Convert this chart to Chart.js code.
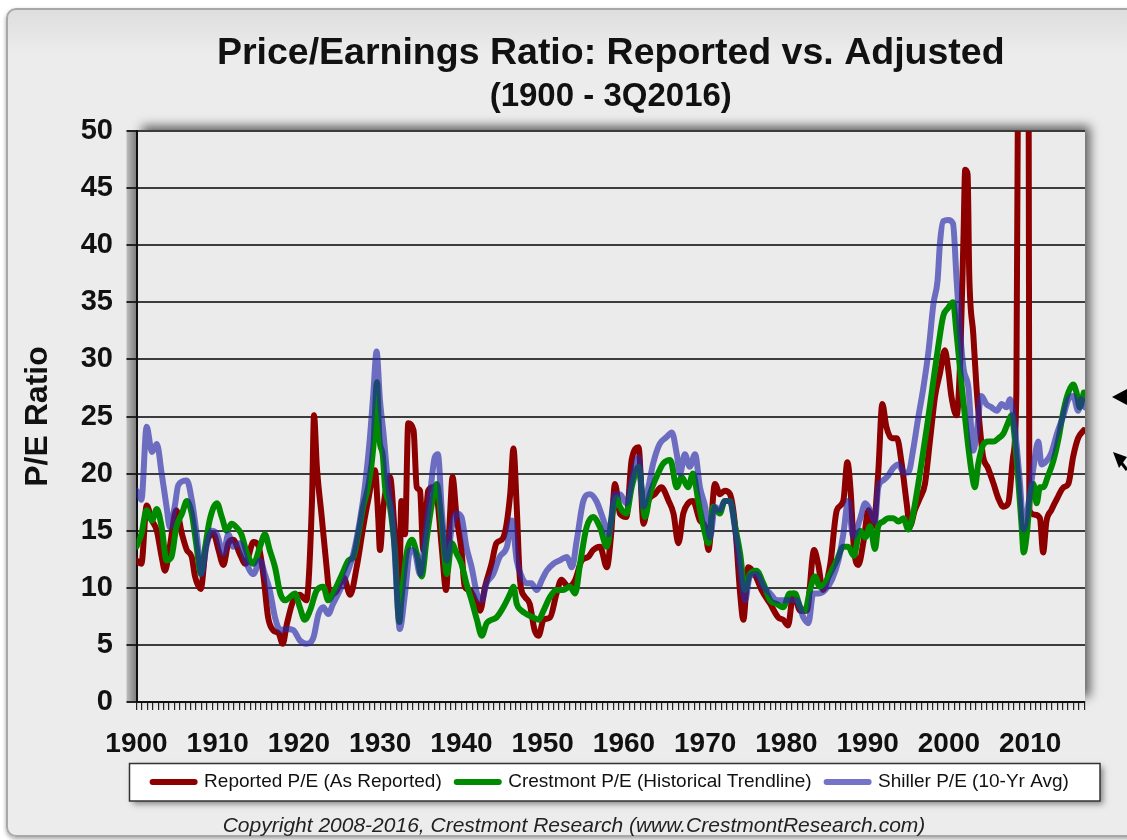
<!DOCTYPE html>
<html>
<head>
<meta charset="utf-8">
<title>Price/Earnings Ratio: Reported vs. Adjusted</title>
<script src="https://cdn.jsdelivr.net/npm/chart.js"></script>
<style>
  html, body { margin: 0; padding: 0; background: #ffffff; }
  #frame {
    position: absolute; left: 6px; top: 8px; width: 1150px; height: 829px;
    box-sizing: border-box; border: 2px solid #a8a8a8; border-radius: 10px;
    background: linear-gradient(#dedede, #ececec 45px, #ececec);
    box-shadow: 0 2px 4px rgba(0,0,0,0.35);
  }
  #chartPE { position: absolute; left: 0; top: 0; }
</style>
</head>
<body>
<div id="frame"></div>
<canvas id="chartPE" width="1127" height="840"></canvas>
<script>
// Valeurs (année, P/E)
const reportedYears = [1900,1900.6,1901.25,1901.9,1902.5,1903.1,1903.5,1904.1,1904.9,1905.6,1906.2,1906.8,1907.2,1907.9,1908.6,1909.5,1910.1,1910.7,1911.3,1911.9,1912.7,1913.4,1914.4,1915,1915.6,1916.2,1916.8,1917.5,1918,1918.5,1919.3,1920.1,1920.9,1921.6,1921.85,1922.2,1922.8,1923.4,1923.8,1924.6,1925.5,1926.3,1927.1,1927.9,1928.5,1929.35,1929.75,1929.97,1930.4,1931.2,1931.8,1932.35,1932.6,1933.05,1933.45,1934.1,1934.5,1934.9,1935.3,1935.9,1936.5,1936.95,1937.6,1938.1,1938.6,1938.9,1939.4,1940,1940.4,1941,1941.9,1942.3,1942.9,1943.7,1944.3,1945.15,1946,1946.4,1946.8,1947.2,1947.8,1948.4,1949,1949.5,1950.1,1950.9,1951.7,1952.3,1953.15,1954,1954.8,1955.6,1956.2,1957.05,1957.9,1958.4,1958.9,1959.5,1960.3,1960.95,1961.8,1962.4,1963,1963.8,1964.6,1965.5,1966.1,1966.7,1967.3,1967.9,1968.5,1969.35,1970,1970.4,1971.2,1971.8,1972.4,1973.05,1973.7,1974.3,1974.7,1975.3,1976.1,1976.95,1978,1979,1979.6,1980.2,1980.85,1981.7,1982.5,1983.4,1983.9,1984.5,1985.4,1986.2,1987,1987.5,1987.9,1988.3,1988.85,1989.5,1990.1,1990.7,1991.3,1991.8,1992.3,1992.95,1993.6,1994.2,1994.8,1995.2,1995.8,1996.4,1997.05,1997.7,1998.3,1998.9,1999.5,1999.9,2000.3,2000.95,2001.4,2001.8,2002,2002.3,2002.5,2003,2003.4,2003.8,2004.2,2004.8,2005.5,2006.1,2006.7,2007.3,2007.9,2008.3,2008.6,2009.2,2009.75,2009.9,2010.6,2011.2,2011.6,2012,2012.6,2013.3,2014.1,2014.7,2015.3,2015.9,2016.6];
const reportedPE = [12.4,12.1,17.2,15.9,15.0,12.7,11.5,13.6,16.8,14.7,13.3,12.7,11.0,9.9,13.9,14.7,13.3,12.0,13.9,14.2,13.0,12.1,14.0,13.7,11.2,7.4,6.3,6.0,5.1,6.8,8.9,9.4,8.9,17.6,25.1,20.6,16.2,11.8,9.4,9.7,10.9,9.4,11.8,15.3,17.6,20.3,16.2,13.3,17.1,19.7,14.7,9.8,17.6,14.7,24.4,23.8,18.8,18.5,13.3,18.5,18.8,18.2,13.3,9.8,16.5,19.7,16.2,13.3,10.1,9.8,8.6,8.0,10.1,12.1,13.9,14.4,18.2,22.2,17.1,10.7,9.2,8.6,6.3,5.8,7.2,7.4,9.5,10.7,10.1,10.7,12.4,12.7,13.3,13.6,11.8,14.5,19.1,16.5,16.2,21.2,22.3,15.6,17.6,18.2,18.8,17.6,16.5,13.9,16.5,17.4,17.6,15.9,15.3,13.3,19.1,18.2,18.5,18.2,15.3,9.5,7.2,11.8,11.2,9.8,8.6,7.4,7.2,6.7,9.5,8.0,8.0,13.3,12.1,9.8,12.1,16.8,17.6,21.0,18.5,13.5,12.0,14.1,16.8,15.4,20.1,26.1,24.1,23.1,23.1,20.8,17.4,15.4,16.8,17.8,19.1,23.1,26.8,28.8,30.8,29.2,26.8,25.1,30.2,40.9,46.6,46.2,37.5,32.2,27.5,24.1,21.5,20.5,19.1,17.8,17.1,17.4,21.5,27.0,70.0,120.0,85.0,16.8,16.4,16.1,13.1,15.8,16.8,17.8,18.8,19.1,21.5,23.1,23.8];

const crestmontYears = [1900,1900.6,1901.25,1901.9,1902.5,1903.1,1903.7,1904.3,1904.9,1905.6,1906.2,1906.8,1907.4,1907.9,1908.4,1909,1909.9,1910.5,1911.1,1911.7,1912.3,1912.9,1913.6,1914.4,1915.2,1915.8,1916.4,1917.05,1917.7,1918.3,1918.9,1919.5,1920.1,1920.7,1921.35,1922.2,1923,1923.6,1924.2,1924.8,1925.5,1926.1,1926.7,1927.3,1927.9,1928.5,1929.15,1929.6,1929.9,1930.3,1930.6,1931.2,1931.8,1932.35,1932.6,1933.25,1933.9,1934.5,1935.1,1935.7,1936.3,1936.95,1937.6,1938.2,1938.8,1939.4,1940,1940.6,1941.25,1941.9,1942.5,1943.1,1943.7,1944.3,1945.15,1946,1946.4,1946.8,1947.4,1948,1948.85,1949.5,1950.1,1950.9,1951.7,1952.5,1953.35,1954,1954.6,1955.4,1956.2,1957.05,1957.9,1958.5,1959.1,1959.5,1960.3,1960.95,1961.8,1962.6,1963.2,1964,1964.85,1965.7,1966.5,1967.1,1967.9,1968.5,1969.15,1969.8,1970.4,1971,1971.8,1972.4,1973.05,1973.7,1974.3,1974.9,1975.5,1976.3,1977.15,1978,1978.8,1979.6,1980.4,1981.05,1981.7,1982.3,1982.9,1983.5,1984.1,1984.75,1985.35,1986.2,1987,1987.6,1988.3,1989.05,1989.7,1990.3,1990.9,1991.3,1991.9,1992.5,1993.15,1993.8,1994.4,1995,1995.4,1996,1996.6,1997.3,1998.1,1998.7,1999.3,1999.9,2000.5,2000.95,2001.6,2002.2,2002.8,2003.2,2003.6,2004.2,2004.85,2005.5,2006.1,2006.7,2007.3,2007.7,2008.1,2008.5,2008.95,2009.2,2009.6,2010,2010.4,2010.8,2011.2,2011.6,2012.2,2012.85,2013.5,2014.1,2014.7,2015.3,2015.7,2016.1,2016.6];
const crestmontPE = [13.6,14.7,16.8,15.9,16.9,15.3,12.4,12.7,15.3,16.5,17.6,16.5,13.6,11.2,13.3,15.9,17.4,16.2,15.0,15.6,15.3,14.7,13.0,12.1,13.6,14.7,13.3,11.8,9.5,8.9,9.2,9.5,8.3,7.2,8.0,9.8,10.1,8.9,9.5,10.4,11.5,12.4,12.7,14.7,17.1,18.8,22.3,28.0,23.0,21.7,18.8,17.1,13.3,7.0,8.9,13.0,14.2,13.0,11.0,14.2,17.1,19.1,15.3,11.2,13.9,13.0,12.1,10.4,8.9,7.2,5.8,6.9,7.2,7.4,8.3,9.5,10.1,8.6,8.0,7.7,7.4,7.2,8.0,9.2,9.8,9.8,10.1,9.5,12.1,15.3,16.2,15.3,13.6,16.2,17.9,17.1,16.5,18.8,20.6,16.2,18.2,19.7,20.9,21.2,18.8,19.7,18.8,20.0,17.6,15.3,13.9,17.1,16.5,17.6,17.6,15.3,13.0,9.8,11.2,11.5,10.4,8.9,8.6,8.3,9.5,9.5,8.3,8.0,9.8,11.0,10.1,10.4,11.2,12.4,13.6,13.6,12.8,15.0,14.4,15.4,13.4,15.4,15.8,16.1,16.1,15.8,16.1,15.1,15.8,18.1,20.8,24.1,28.2,31.2,33.8,34.5,35.0,32.2,27.5,23.5,20.1,18.8,20.8,22.5,22.8,22.8,23.1,23.5,24.5,25.1,23.1,19.8,15.4,13.1,14.8,18.1,19.1,17.4,18.8,18.8,19.8,21.1,23.1,25.5,27.1,27.8,27.1,25.8,27.1];

const shillerYears = [1900,1900.6,1901.25,1901.9,1902.5,1903.1,1903.7,1904.1,1904.7,1905.15,1906.2,1906.8,1907.4,1908,1908.6,1909.25,1909.9,1910.7,1911.3,1911.9,1912.7,1913.55,1914.4,1915.2,1915.8,1916.4,1917.05,1917.7,1918.5,1919.3,1920.1,1920.9,1921.8,1922.4,1923,1923.6,1924.2,1925.05,1925.9,1926.7,1927.5,1928.1,1928.7,1929.15,1929.55,1929.97,1930.4,1931,1931.6,1932.2,1932.4,1933.05,1933.7,1934.3,1934.9,1935.5,1936.1,1936.7,1937.1,1937.6,1938.2,1938.8,1939.4,1940,1940.6,1941.25,1941.9,1942.5,1943.1,1943.9,1944.7,1945.6,1946.2,1946.8,1947.4,1948,1948.6,1949.25,1949.9,1950.5,1951.3,1952.1,1952.95,1953.6,1954.2,1955,1955.8,1956.6,1957.5,1958.1,1958.9,1959.5,1960.3,1961.15,1961.8,1962.4,1963,1963.6,1964.4,1965.25,1965.9,1966.5,1966.9,1967.5,1968.1,1968.75,1969.35,1970,1970.6,1971.2,1971.8,1972.4,1973.05,1973.7,1974.3,1974.9,1975.5,1976.3,1977.15,1978,1978.8,1979.6,1980.4,1981.25,1982.1,1982.7,1983.3,1983.9,1984.75,1985.6,1986.4,1987,1987.6,1988.2,1989.05,1989.7,1990.3,1990.9,1991.3,1991.9,1992.5,1993.15,1993.8,1994.4,1995,1995.6,1996.2,1996.85,1997.5,1998.1,1998.6,1998.9,1999.3,1999.9,2000.5,2000.95,2001.4,2001.8,2002.4,2003,2003.4,2004,2004.6,2005.25,2005.9,2006.5,2007.1,2007.5,2008.1,2008.75,2009.2,2009.8,2010.4,2011,2011.4,2012,2012.6,2013.3,2014.1,2014.7,2015.3,2015.9,2016.3,2016.75];
const shillerPE = [18.5,17.7,24.1,21.9,22.6,20.0,17.1,15.3,17.1,19.0,19.4,17.7,14.7,11.2,13.6,15.0,14.7,13.0,14.7,13.6,13.9,12.1,11.2,12.4,11.2,9.8,7.4,6.3,6.4,6.3,5.4,5.1,5.7,7.7,8.3,7.7,8.6,9.8,11.2,13.0,15.9,18.8,22.9,27.0,30.7,26.4,23.5,18.8,15.3,7.7,6.4,9.5,13.3,13.0,11.2,14.2,17.9,21.4,21.7,16.5,12.4,15.3,16.5,16.2,13.6,11.8,9.5,8.9,10.4,11.2,12.7,13.6,15.9,12.4,11.0,10.4,10.4,9.8,10.7,11.5,12.1,12.4,12.7,11.8,14.2,17.6,18.2,17.6,15.9,14.7,18.2,18.2,17.4,20.0,21.4,17.1,18.8,20.9,22.6,23.2,23.6,21.7,20.0,21.7,20.6,21.7,18.8,17.1,14.4,17.1,16.8,17.6,17.6,15.0,11.8,8.9,11.0,11.2,10.1,9.5,8.9,8.9,8.9,8.9,7.4,6.9,9.5,9.5,9.8,10.7,12.4,14.7,17.6,14.5,16.0,17.4,16.8,15.8,18.8,19.4,19.8,20.5,20.8,20.1,20.1,22.1,24.8,27.5,30.8,34.9,36.9,40.2,42.1,42.2,41.9,36.9,32.2,29.2,27.5,22.0,23.5,26.8,26.1,25.8,25.5,26.1,25.8,26.5,24.1,19.1,15.1,17.4,20.5,22.8,20.8,21.1,21.8,23.5,25.1,26.5,26.8,25.5,26.5,25.8];

const seriesLabels = ['Reported P/E (As Reported)', 'Crestmont P/E (Historical Trendline)', 'Shiller P/E (10-Yr Avg)'];
const xTickLabels = ['1900','1910','1920','1930','1940','1950','1960','1970','1980','1990','2000','2010'];

const toPoints = (xs, ys) => xs.map((x, i) => ({ x: x, y: ys[i] }));

Chart.defaults.font.family = "'Liberation Sans', Arial, sans-serif";
Chart.defaults.color = '#111';

// fond de la zone de tracé, ombres, cadre de la légende
const decor = {
  id: 'decor',
  beforeDraw(chart) {
    const { ctx, chartArea: a, legend } = chart;
    ctx.save();
    ctx.shadowColor = 'rgba(0,0,0,0.6)';
    ctx.shadowBlur = 10;
    ctx.shadowOffsetX = 5;
    ctx.shadowOffsetY = -5;
    ctx.fillStyle = '#ebebeb';
    ctx.fillRect(a.left, a.top, a.width, a.height);
    ctx.shadowColor = 'transparent';
    const g = ctx.createLinearGradient(a.left - 10, 0, a.left, 0);
    g.addColorStop(0, '#bdbdbd');
    g.addColorStop(1, '#7d7d7d');
    ctx.fillStyle = g;
    ctx.fillRect(a.left - 10, a.top, 10, a.height);

    const bx = a.left - 7, by = legend.top + 6, bw = a.width + 22, bh = 37.5;
    ctx.shadowColor = 'rgba(0,0,0,0.45)';
    ctx.shadowBlur = 6;
    ctx.shadowOffsetX = 3;
    ctx.shadowOffsetY = 3;
    ctx.fillStyle = '#ffffff';
    ctx.fillRect(bx, by, bw, bh);
    ctx.shadowColor = 'transparent';
    ctx.strokeStyle = '#333';
    ctx.lineWidth = 1.5;
    ctx.strokeRect(bx, by, bw, bh);
    ctx.restore();
  },
  afterDraw(chart) {
    const { ctx } = chart;
    ctx.save();
    ctx.fillStyle = '#222';
    ctx.font = "italic 21px 'Liberation Sans', Arial, sans-serif";
    ctx.textAlign = 'center';
    ctx.textBaseline = 'middle';
    ctx.fillText('Copyright 2008-2016, Crestmont Research (www.CrestmontResearch.com)', 574, 826);

    // flèches coupées au bord droit
    ctx.fillStyle = '#000';
    ctx.beginPath();
    ctx.moveTo(1112, 397);
    ctx.lineTo(1127, 389);
    ctx.lineTo(1127, 405);
    ctx.closePath();
    ctx.fill();
    ctx.beginPath();
    ctx.moveTo(1113, 452);
    ctx.lineTo(1127, 457);
    ctx.lineTo(1119, 468);
    ctx.closePath();
    ctx.fill();
    ctx.strokeStyle = '#000';
    ctx.lineWidth = 3;
    ctx.beginPath();
    ctx.moveTo(1120, 461);
    ctx.lineTo(1127, 470);
    ctx.stroke();
    ctx.restore();
  }
};

const ctx = document.getElementById('chartPE').getContext('2d');
new Chart(ctx, {
  type: 'line',
  data: {
    datasets: [
      {
        label: seriesLabels[0],
        data: toPoints(reportedYears, reportedPE),
        borderColor: '#8c0000',
        backgroundColor: '#8c0000',
        order: 3
      },
      {
        label: seriesLabels[1],
        data: toPoints(crestmontYears, crestmontPE),
        borderColor: '#008a00',
        backgroundColor: '#008a00',
        order: 2
      },
      {
        label: seriesLabels[2],
        data: toPoints(shillerYears, shillerPE),
        borderColor: 'rgba(40,40,170,0.65)',
        backgroundColor: 'rgba(40,40,170,0.65)',
        order: 1
      }
    ]
  },
  options: {
    responsive: false,
    animation: false,
    elements: {
      point: { radius: 0, hoverRadius: 0 },
      line: { borderWidth: 6, cubicInterpolationMode: 'monotone', borderCapStyle: 'round', borderJoinStyle: 'round' }
    },
    layout: { padding: { left: 15, right: 42, top: 0, bottom: 38.5 } },
    plugins: {
      title: {
        display: true,
        fullSize: false,
        text: 'Price/Earnings Ratio: Reported vs. Adjusted',
        font: { size: 37.5, weight: 'bold' },
        color: '#111',
        padding: { top: 31.5, bottom: 0 }
      },
      subtitle: {
        display: true,
        fullSize: false,
        text: '(1900 - 3Q2016)',
        font: { size: 33, weight: 'bold' },
        color: '#111',
        padding: { top: 0.7, bottom: 14.2 }
      },
      legend: {
        position: 'bottom',
        fullSize: false,
        labels: {
          usePointStyle: true,
          pointStyleWidth: 42,
          padding: 15,
          color: '#111',
          font: { size: 19 },
          generateLabels: chart => chart.data.datasets.map((ds, i) => ({
            text: ds.label,
            fillStyle: ds.borderColor,
            strokeStyle: ds.borderColor,
            lineWidth: 6,
            lineCap: 'round',
            pointStyle: 'line',
            fontColor: '#111',
            hidden: false,
            datasetIndex: i
          }))
        }
      },
      tooltip: { enabled: false }
    },
    scales: {
      x: {
        type: 'linear',
        min: 1900,
        max: 2016.75,
        afterBuildTicks: scale => {
          const ticks = [];
          for (let i = 0; i <= 175; i++) ticks.push({ value: 1900 + i * 2 / 3 });
          scale.ticks = ticks;
        },
        afterFit: scale => { scale.height = 55.5; },
        grid: { drawOnChartArea: false, drawTicks: true, tickLength: 8, tickColor: '#222', lineWidth: 1.2 },
        border: { color: '#111', width: 2 },
        ticks: {
          autoSkip: false,
          maxRotation: 0,
          minRotation: 0,
          padding: 17,
          color: '#111',
          font: { size: 28, weight: 'bold' },
          callback: value => {
            const yr = Math.round(value);
            const lbl = String(yr);
            return (Math.abs(value - yr) < 0.01 && xTickLabels.includes(lbl)) ? lbl : '';
          }
        }
      },
      y: {
        min: 0,
        max: 50,
        afterFit: scale => { scale.width = 121.5; },
        grid: { color: '#3c3c3c', lineWidth: 2, tickLength: 10, tickColor: '#222' },
        border: { color: '#111', width: 2 },
        ticks: { stepSize: 5, padding: 13.5, color: '#111', font: { size: 29, weight: 'bold' } },
        title: {
          display: true,
          text: 'P/E Ratio',
          color: '#111',
          font: { size: 32, weight: 'bold' },
          padding: { top: 4, bottom: 0 }
        }
      }
    }
  },
  plugins: [decor]
});
</script>
</body>
</html>
